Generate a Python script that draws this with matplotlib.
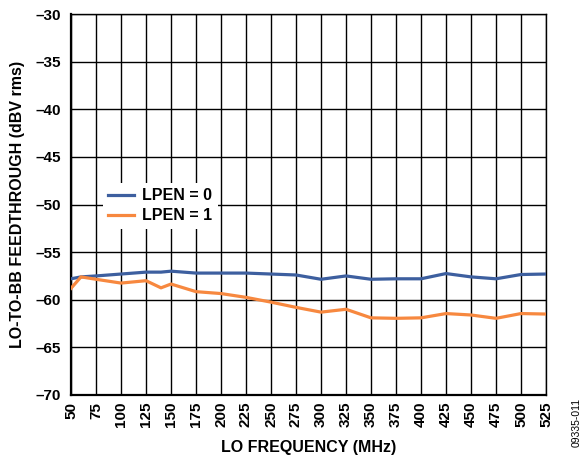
import matplotlib
matplotlib.use("Agg")
import matplotlib.pyplot as plt

plt.rcParams['font.family'] = ['Liberation Sans', 'DejaVu Sans']

freq_lpen0 = [50, 60, 75, 100, 125, 140, 150, 175, 200, 225, 250, 275, 300, 325, 350, 375, 400, 425, 450, 475, 500, 525]
lpen0 = [-57.8, -57.6, -57.5, -57.3, -57.1, -57.1, -57.0, -57.2, -57.2, -57.2, -57.3, -57.4, -57.85, -57.5, -57.85, -57.8, -57.8, -57.25, -57.6, -57.8, -57.35, -57.3]

freq_lpen1 = [50, 60, 75, 100, 125, 140, 150, 175, 200, 225, 250, 275, 300, 325, 350, 375, 400, 425, 450, 475, 500, 525]
lpen1 = [-58.8, -57.6, -57.85, -58.25, -58.0, -58.75, -58.35, -59.15, -59.35, -59.75, -60.25, -60.8, -61.3, -61.0, -61.9, -61.95, -61.9, -61.45, -61.6, -61.95, -61.45, -61.5]

x_ticks = [50, 75, 100, 125, 150, 175, 200, 225, 250, 275, 300, 325, 350, 375, 400, 425, 450, 475, 500, 525]
y_ticks = [-70, -65, -60, -55, -50, -45, -40, -35, -30]

fig = plt.figure(figsize=(5.85, 4.63), dpi=100)
ax = fig.add_axes([71/585, 1-395/463, (546-71)/585, (395-14)/463])

blue = '#3D5F9F'
orange = '#F7883F'
ax.plot(freq_lpen0, lpen0, color=blue, lw=2.3, label='LPEN = 0', zorder=3)
ax.plot(freq_lpen1, lpen1, color=orange, lw=2.3, label='LPEN = 1', zorder=3)

ax.set_xlim(50, 525)
ax.set_ylim(-70, -30)
ax.set_xticks(x_ticks)
ax.set_yticks(y_ticks)
ax.set_xticklabels([str(v) for v in x_ticks], rotation=90, fontweight='bold', fontsize=11)
ax.set_yticklabels([f'\u2013{abs(v)}' for v in y_ticks], fontweight='bold', fontsize=11)
ax.tick_params(axis='x', length=0, pad=5)
ax.tick_params(axis='y', length=0, pad=7)
ax.grid(True, color='black', lw=1.0, zorder=1)
for s in ax.spines.values():
    s.set_linewidth(1.0)
ax.spines['left'].set_linewidth(1.6)
ax.spines['bottom'].set_linewidth(1.6)

ax.set_xlabel('LO FREQUENCY (MHz)', fontweight='bold', fontsize=11.5, labelpad=9)
ax.set_ylabel('LO-TO-BB FEEDTHROUGH (dBV rms)', fontweight='bold', fontsize=11.5, labelpad=8)

leg = ax.legend(loc='upper left', bbox_to_anchor=(0.067, 0.557), borderaxespad=0.0,
                frameon=True, fancybox=False,
                edgecolor='none', facecolor='white', framealpha=1.0,
                prop={'weight': 'bold', 'size': 11.5}, handlelength=1.6, handletextpad=0.5,
                borderpad=0.35, labelspacing=0.3)
leg.set_zorder(4)

fig.text(577/585, 1-422/463, '09335-011', rotation=90, fontsize=7.5, ha='center', va='center')

fig.savefig('out.png', dpi=100)
